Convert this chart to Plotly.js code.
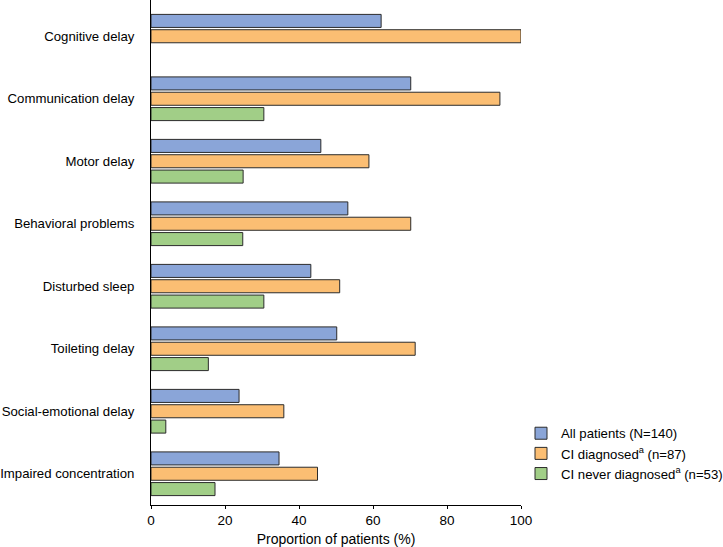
<!DOCTYPE html>
<html>
<head>
<meta charset="utf-8">
<script src="https://cdn.plot.ly/plotly-3.0.1.min.js"></script>
<style>html,body{margin:0;padding:0;background:#fff;}#chart{width:723px;height:547px;}</style>
</head>
<body>
<div id="chart"></div>
<script>
const categories = ["Cognitive delay","Communication delay","Motor delay","Behavioral problems","Disturbed sleep","Toileting delay","Social-emotional delay","Impaired concentration"];
const allPatients = [62.2, 70.2, 45.9, 53.2, 43.2, 50.2, 23.8, 34.6];
const ciDiagnosed = [100, 94.3, 58.9, 70.2, 51.0, 71.4, 35.9, 45.0];
const ciNeverDiagnosed = [null, 30.5, 24.9, 24.8, 30.5, 15.5, 4.0, 17.3];
const seriesNames = ["All patients (N=140)", "CI diagnosed<sup>a</sup> (n=87)", "CI never diagnosed<sup>a</sup> (n=53)"];
const xTicks = [0, 20, 40, 60, 80, 100];

const colors = ["#8aa5d8", "#fbbe73", "#a1ce87"];
const data = [allPatients, ciDiagnosed, ciNeverDiagnosed].map((vals, i) => ({
  type: "bar",
  orientation: "h",
  y: categories,
  x: vals,
  name: seriesNames[i],
  marker: {color: colors[i], line: {color: "#2b2b2b", width: 1}},
  hoverinfo: "x+y"
}));

const layout = {
  width: 723, height: 547,
  margin: {l: 151, r: 202, t: 0, b: 42, autoexpand: false},
  paper_bgcolor: "#fff", plot_bgcolor: "#fff",
  font: {family: "Liberation Sans, Arial, sans-serif", size: 13.2, color: "#000"},
  barmode: "group",
  bargap: 0.264,
  bargroupgap: 0.15,
  showlegend: true,
  legend: {x: 1.0, y: 0.172, xanchor: "left", yanchor: "top",
           font: {size: 13.2}, itemwidth: 30, tracegroupgap: 0, bgcolor: "rgba(0,0,0,0)"},
  xaxis: {
    range: [0, 100], tickvals: xTicks, ticktext: xTicks.map(String),
    showgrid: false, zeroline: false, showline: true, linecolor: "#000", linewidth: 1,
    ticks: "outside", ticklen: 3, tickcolor: "#000",
    title: {text: "Proportion of patients (%)", font: {size: 14}, standoff: 7},
    tickfont: {size: 13.5}, fixedrange: true, automargin: false
  },
  yaxis: {
    type: "category", range: [7.5, -0.58],
    showgrid: false, zeroline: false, showline: true, linecolor: "#000", linewidth: 1,
    ticks: "", ticklabelstandoff: 13, tickfont: {size: 13.2}, fixedrange: true, automargin: false
  }
};
Plotly.newPlot("chart", data, layout, {displayModeBar: false, staticPlot: true});
</script>
</body>
</html>
